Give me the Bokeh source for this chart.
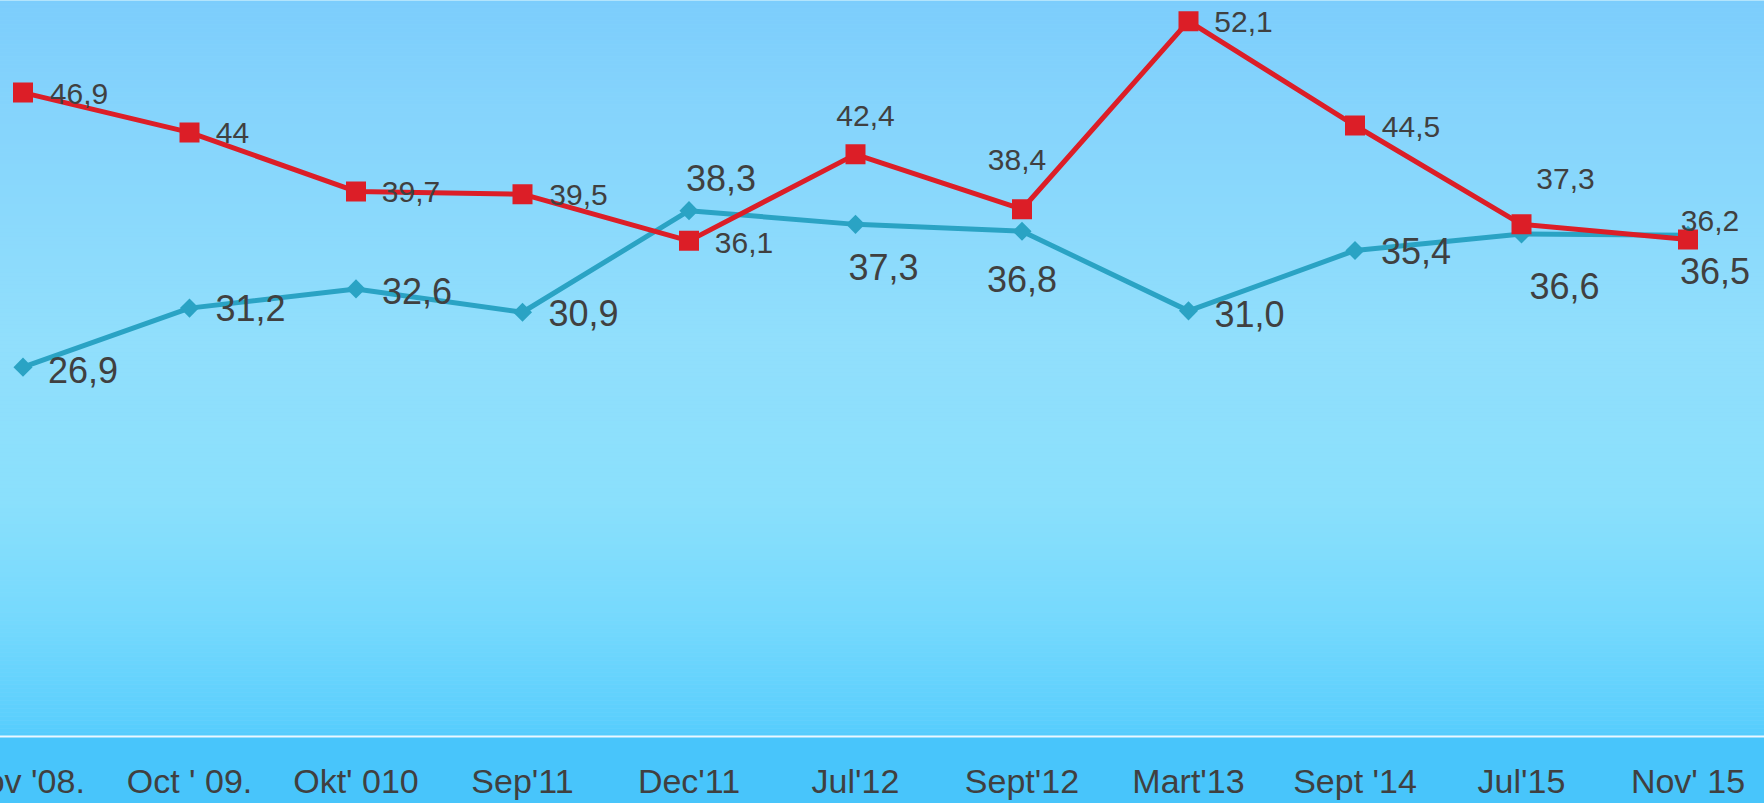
import numpy as np
from bokeh.plotting import figure
from bokeh.models import ColumnDataSource, Range1d, FixedTicker
from bokeh.core.properties import value
from bokeh.embed import file_html
from bokeh.resources import INLINE

# ---------------- data ----------------
categories = ["Nov '08.", "Oct ' 09.", "Okt' 010", "Sep'11", "Dec'11", "Jul'12",
              "Sept'12", "Mart'13", "Sept '14", "Jul'15", "Nov' 15"]
blue_values = [26.9, 31.2, 32.6, 30.9, 38.3, 37.3, 36.8, 31.0, 35.4, 36.6, 36.5]
red_values = [46.9, 44.0, 39.7, 39.5, 36.1, 42.4, 38.4, 52.1, 44.5, 37.3, 36.2]

blue_labels = [("%.1f" % v).replace(".", ",") for v in blue_values]
red_labels = [("%g" % v).replace(".", ",") for v in red_values]

# label placement (screen px offsets of label centre from the point; +y is down)
blue_dx = [60, 61, 61, 61, 32, 28, 0, 61, 61, 43, 27]
blue_dy = [3, 0, 2, 1, -33, 43, 48, 3, 1, 52, 36]
red_dx = [56, 43, 55, 56, 55, 10, -5, 55, 56, 44, 22]
red_dy = [1, 1, 1, 1, 2, -38, -49, 1, 1, -45, -18]

x = list(range(len(categories)))

BLUE = "#2aa3c4"
RED = "#dc1e27"
TXT = "#404040"
FONT = "Liberation Sans"

SHIFT = 48              # part of the chart that lies left of the window (clipped)
FRAME_H = 736
Y_TOP = FRAME_H / 13.73
X0, X1 = (-SHIFT - 22.5) / 166.5, (1764 - 22.5) / 166.5

p = figure(width=1764 + SHIFT, height=803, output_backend="svg", toolbar_location=None,
           x_range=Range1d(X0, X1), y_range=Range1d(0, Y_TOP),
           y_axis_location=None,
           min_border_left=0, min_border_right=0, min_border_top=0, min_border_bottom=803 - FRAME_H,
           outline_line_color=None, border_fill_color="#48c5fb",
           background_fill_color="#8ad8fc")
p.styles = {"margin-left": "-%dpx" % SHIFT}
p.xgrid.visible = False
p.ygrid.visible = False

# background gradient
stops_px = [0, 112, 340, 500, 620, 720, 736]
stops_rgb = [(124, 205, 252), (133, 212, 252), (145, 223, 252), (138, 224, 252),
             (117, 217, 253), (91, 207, 253), (84, 204, 253)]
nb = 184
edges = np.linspace(0, FRAME_H, nb + 1)
cols, bots, tops = [], [], []
for k in range(nb):
    mid = (edges[k] + edges[k + 1]) / 2
    r = np.interp(mid, stops_px, [c[0] for c in stops_rgb])
    g = np.interp(mid, stops_px, [c[1] for c in stops_rgb])
    b = np.interp(mid, stops_px, [c[2] for c in stops_rgb])
    cols.append("#%02x%02x%02x" % (int(round(r)), int(round(g)), int(round(b))))
    tops.append(Y_TOP * (1 - edges[k] / FRAME_H))
    bots.append(Y_TOP * (1 - edges[k + 1] / FRAME_H) - 0.01)
p.quad(left=X0 - 1, right=X1 + 1, bottom=bots, top=tops, fill_color=cols, line_color=None)

bsrc = ColumnDataSource(dict(x=x, y=blue_values, t=blue_labels, dx=blue_dx, dy=blue_dy))
rsrc = ColumnDataSource(dict(x=x, y=red_values, t=red_labels, dx=red_dx, dy=red_dy))

p.line("x", "y", source=bsrc, line_color=BLUE, line_width=5)
p.scatter("x", "y", source=bsrc, marker="square", size=13.5, angle=np.pi / 4,
          fill_color=BLUE, line_color=None)
p.line("x", "y", source=rsrc, line_color=RED, line_width=5)
p.scatter("x", "y", source=rsrc, marker="square", size=20, fill_color=RED, line_color=None)

p.text("x", "y", text="t", source=bsrc, x_offset="dx", y_offset="dy",
       text_align="center", text_baseline="middle", text_font=value(FONT),
       text_font_size="36px", text_color=TXT)
p.text("x", "y", text="t", source=rsrc, x_offset="dx", y_offset="dy",
       text_align="center", text_baseline="middle", text_font=value(FONT),
       text_font_size="30px", text_color=TXT)

ax = p.xaxis[0]
ax.ticker = FixedTicker(ticks=x)
ax.major_label_overrides = {i: c for i, c in zip(x, categories)}
ax.axis_line_color = "#eaf8ff"
ax.axis_line_width = 2
ax.major_tick_line_color = None
ax.minor_tick_line_color = None
ax.major_tick_out = 0
ax.major_tick_in = 0
ax.major_label_standoff = 25
ax.major_label_text_font = FONT
ax.major_label_text_font_size = "34px"
ax.major_label_text_color = TXT

open("out.html", "w").write(file_html(p, INLINE))
